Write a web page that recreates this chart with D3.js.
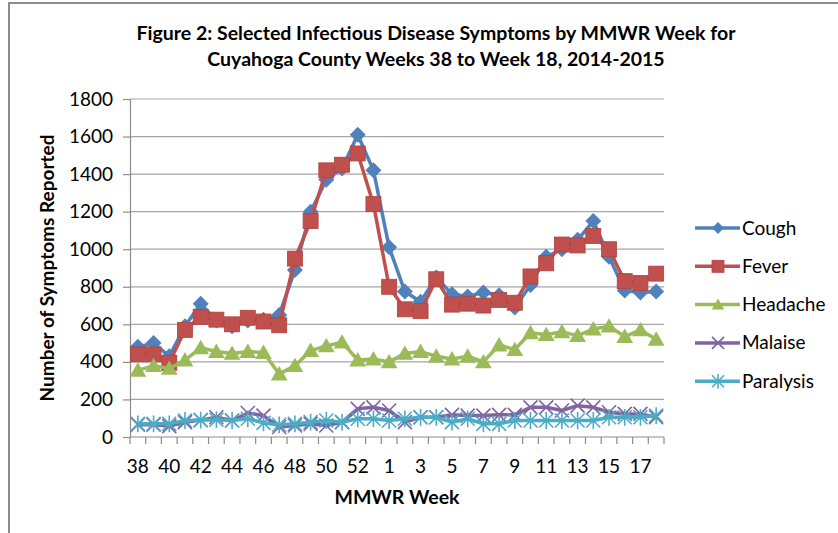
<!DOCTYPE html>
<html>
<head>
<meta charset="utf-8">
<script src="https://cdn.jsdelivr.net/npm/d3@7"></script>
<style>
  body { margin: 0; background: #fff; }
  svg text { font-family: Lato, "Open Sans", sans-serif; fill: #000; }
</style>
</head>
<body>
<div id="chart"></div>
<script>
// weeks 38-53 of 2014, then 1-18 of 2015
const weeks = [38, 39, 40, 41, 42, 43, 44, 45, 46, 47, 48, 49, 50, 51, 52, 53,
  1, 2, 3, 4, 5, 6, 7, 8, 9, 10, 11, 12, 13, 14, 15, 16, 17, 18];
const cough = [480, 500, 430, 590, 710, 620, 590, 620, 625, 650, 890, 1200, 1370, 1430, 1610, 1420,
  1010, 775, 720, 850, 760, 748, 770, 755, 690, 810, 960, 1000, 1050, 1150, 960, 780, 770, 775];
const fever = [440, 440, 395, 570, 640, 625, 600, 635, 615, 595, 950, 1150, 1420, 1450, 1510, 1240,
  800, 680, 670, 840, 705, 710, 700, 730, 715, 855, 925, 1025, 1020, 1070, 1000, 830, 820, 870];
const headache = [355, 380, 365, 410, 475, 455, 445, 455, 450, 335, 380, 460, 485, 505, 410, 415,
  400, 445, 455, 430, 415, 430, 400, 490, 465, 555, 545, 560, 540, 575, 590, 535, 570, 520];
const malaise = [65, 65, 58, 79, 90, 105, 88, 128, 114, 53, 61, 70, 61, 79, 150, 158,
  141, 79, 105, 105, 118, 114, 114, 118, 118, 158, 158, 141, 167, 158, 132, 123, 123, 105];
const paralysis = [70, 70, 70, 88, 90, 92, 88, 97, 75, 65, 70, 79, 88, 79, 97, 97,
  88, 97, 105, 105, 79, 97, 70, 70, 88, 88, 88, 88, 88, 88, 105, 105, 105, 114];
const yTicks = [0, 200, 400, 600, 800, 1000, 1200, 1400, 1600, 1800];

const seriesNames = ["Cough", "Fever", "Headache", "Malaise", "Paralysis"];
const seriesValues = [cough, fever, headache, malaise, paralysis];
const colors = ["#4F81BD", "#C0504D", "#9BBB59", "#8064A2", "#4BACC6"];
const shapes = ["diamond", "square", "triangle", "x", "star"];

var width = 838, height = 533;
var plotL = 130, plotR = 664, plotT = 99, plotB = 437;

var svg = d3.select("#chart").append("svg")
    .attr("width", width)
    .attr("height", height);

// outer frame (only top and left edges visible)
svg.append("path")
    .attr("d", "M9,540 L9,3 L845,3")
    .attr("fill", "none")
    .attr("stroke", "#8c8c8c")
    .attr("stroke-width", 2);

// title
var title = svg.append("text")
    .attr("text-anchor", "middle")
    .style("font-weight", "bold")
    .style("font-size", "19.5px");
title.append("tspan").attr("x", 436).attr("y", 40)
    .text("Figure 2: Selected Infectious Disease Symptoms by MMWR Week for");
title.append("tspan").attr("x", 436).attr("y", 66)
    .text("Cuyahoga County Weeks 38 to Week 18, 2014-2015");

var x = d3.scaleBand()
    .domain(d3.range(weeks.length))
    .range([plotL, plotR]);

var y = d3.scaleLinear()
    .domain([0, 1800])
    .range([plotB, plotT]);

// gridlines
svg.append("g")
    .selectAll("line")
    .data(yTicks.slice(1))
    .enter().append("line")
    .attr("x1", plotL).attr("x2", plotR)
    .attr("y1", d => y(d)).attr("y2", d => y(d))
    .attr("stroke", "#a6a6a6")
    .attr("stroke-width", 1.2);

// y axis
var yAxis = svg.append("g")
    .attr("transform", "translate(" + plotL + ",0)")
    .call(d3.axisLeft(y).tickValues(yTicks).tickFormat(d3.format("d")).tickSize(7).tickPadding(10));
yAxis.selectAll("text").style("font-size", "19px").attr("fill", "#000");
yAxis.selectAll("line, path").attr("stroke", "#8c8c8c").attr("stroke-width", 1.2);

// x axis with Excel-like ticks between categories
var xAxisG = svg.append("g")
    .attr("transform", "translate(0," + plotB + ")");
xAxisG.append("line")
    .attr("x1", plotL).attr("x2", plotR)
    .attr("stroke", "#8c8c8c").attr("stroke-width", 1.2);
xAxisG.selectAll(".tk")
    .data(d3.range(weeks.length + 1))
    .enter().append("line")
    .attr("x1", i => plotL + i * x.bandwidth())
    .attr("x2", i => plotL + i * x.bandwidth())
    .attr("y1", 0).attr("y2", 7)
    .attr("stroke", "#8c8c8c").attr("stroke-width", 1.2);
xAxisG.selectAll(".lbl")
    .data(weeks.filter((w, i) => i % 2 === 0))
    .enter().append("text")
    .attr("x", (w, i) => x(i * 2) + x.bandwidth() / 2)
    .attr("y", 36)
    .attr("text-anchor", "middle")
    .style("font-size", "19px")
    .text(w => w);

// axis titles
svg.append("text")
    .attr("x", (plotL + plotR) / 2)
    .attr("y", 504)
    .attr("text-anchor", "middle")
    .style("font-weight", "bold")
    .style("font-size", "19.5px")
    .text("MMWR Week");

svg.append("text")
    .attr("transform", "translate(54," + (plotT + plotB) / 2 + ") rotate(-90)")
    .attr("text-anchor", "middle")
    .style("font-weight", "bold")
    .style("font-size", "19px")
    .text("Number of Symptoms Reported");

function drawMarker(g, shape, color, s) {
    if (shape === "diamond") {
        g.append("path")
            .attr("d", "M0," + (-s) + "L" + s + ",0L0," + s + "L" + (-s) + ",0Z")
            .attr("fill", color);
    } else if (shape === "square") {
        g.append("rect")
            .attr("x", -s).attr("y", -s)
            .attr("width", 2 * s).attr("height", 2 * s)
            .attr("fill", color)
            .attr("stroke", "#b2413e").attr("stroke-width", 0.8);
    } else if (shape === "triangle") {
        g.append("path")
            .attr("d", "M0," + (-s) + "L" + (s * 1.05) + "," + (s * 0.8) + "L" + (-s * 1.05) + "," + (s * 0.8) + "Z")
            .attr("fill", color);
    } else if (shape === "x") {
        g.append("path")
            .attr("d", "M" + (-s) + "," + (-s) + "L" + s + "," + s + "M" + (-s) + "," + s + "L" + s + "," + (-s))
            .attr("stroke", color).attr("stroke-width", 1.6).attr("fill", "none");
    } else {
        g.append("path")
            .attr("d", "M" + (-s) + "," + (-s) + "L" + s + "," + s + "M" + (-s) + "," + s + "L" + s + "," + (-s) +
                "M0," + (-s * 1.2) + "L0," + (s * 1.2))
            .attr("stroke", color).attr("stroke-width", 1.6).attr("fill", "none");
    }
}

var line = d3.line()
    .x((d, i) => x(i) + x.bandwidth() / 2)
    .y(d => y(d));

var markerSize = [8, 7.5, 8, 7, 7];

seriesValues.forEach(function(vals, k) {
    var g = svg.append("g");
    g.append("path")
        .datum(vals)
        .attr("d", line)
        .attr("fill", "none")
        .attr("stroke", colors[k])
        .attr("stroke-width", 3.5)
        .attr("stroke-linejoin", "round");
    g.selectAll(".m")
        .data(vals)
        .enter().append("g")
        .attr("transform", (d, i) => "translate(" + (x(i) + x.bandwidth() / 2) + "," + y(d) + ")")
        .each(function() { drawMarker(d3.select(this), shapes[k], colors[k], markerSize[k]); });
});

// legend
var legend = svg.selectAll(".legend")
    .data(seriesNames)
    .enter().append("g")
    .attr("transform", (d, i) => "translate(0," + (228 + i * 38.3) + ")");

legend.append("line")
    .attr("x1", 695).attr("x2", 740)
    .attr("stroke", (d, i) => colors[i])
    .attr("stroke-width", 3.5);
legend.each(function(d, i) {
    var m = d3.select(this).append("g").attr("transform", "translate(718,0)");
    drawMarker(m, shapes[i], colors[i], 6);
});
legend.append("text")
    .attr("x", 742)
    .attr("y", 6.5)
    .style("font-size", "19px")
    .text(d => d);
</script>
</body>
</html>
